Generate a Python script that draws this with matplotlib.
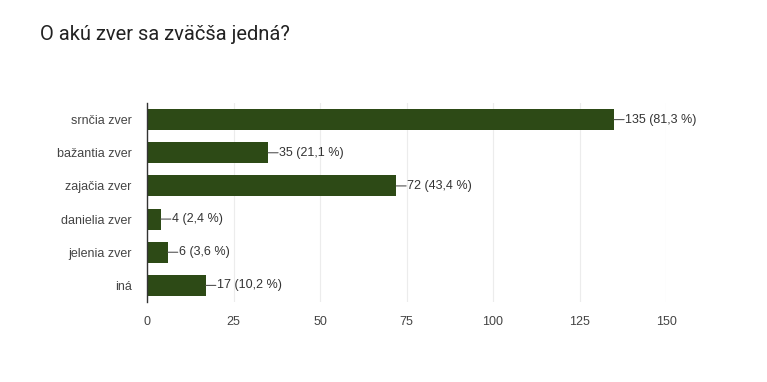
import matplotlib.pyplot as plt

categories = ["srnčia zver", "bažantia zver", "zajačia zver", "danielia zver", "jelenia zver", "iná"]
counts = [135, 35, 72, 4, 6, 17]
percents = ["81,3", "21,1", "43,4", "2,4", "3,6", "10,2"]
xticks = [0, 25, 50, 75, 100, 125, 150]

bar_color = "#2d4a16"

plt.rcParams["font.family"] = ["Liberation Sans", "DejaVu Sans"]

fig = plt.figure(figsize=(7.67, 3.82), dpi=100)
ax = fig.add_axes([147 / 767, 1 - 302 / 382, (666 - 147) / 767, (302 - 103) / 382])

ypos = list(range(len(categories)))
ax.barh(ypos, counts, height=0.63, color=bar_color, zorder=3)
ax.set_ylim(len(categories) - 0.5, -0.5)
ax.set_xlim(0, 150)
ax.set_xticks(xticks)
ax.set_yticks(ypos)
ax.set_yticklabels(categories)
ax.tick_params(axis="both", length=0, labelsize=9, colors="#444444")
ax.tick_params(axis="y", pad=11)
ax.tick_params(axis="x", pad=10)
ax.grid(axis="x", color="#ececec", linewidth=0.8, zorder=0)
for s in ["top", "right", "bottom"]:
    ax.spines[s].set_visible(False)
ax.spines["left"].set_color("#333333")
ax.spines["left"].set_linewidth(1)
ax.spines["left"].set_zorder(4)

k = 0.72  # points per pixel
for y, c, p in zip(ypos, counts, percents):
    ax.annotate("", xy=(c, y), xytext=(10 * k, 0), textcoords="offset points",
                xycoords="data",
                arrowprops=dict(arrowstyle="-", color="#555555", lw=0.8,
                                shrinkA=0, shrinkB=0))
    ax.annotate(f"{c} ({p} %)", xy=(c, y), xytext=(11 * k, 0), textcoords="offset points",
                va="center", ha="left", fontsize=9, color="#333333")

fig.text(40 / 767, 1 - 34 / 382, "O akú zver sa zväčša jedná?", fontsize=14.5,
         family=["Roboto", "DejaVu Sans"], color="#222222", va="center", ha="left")

fig.savefig("out.png", dpi=100)
